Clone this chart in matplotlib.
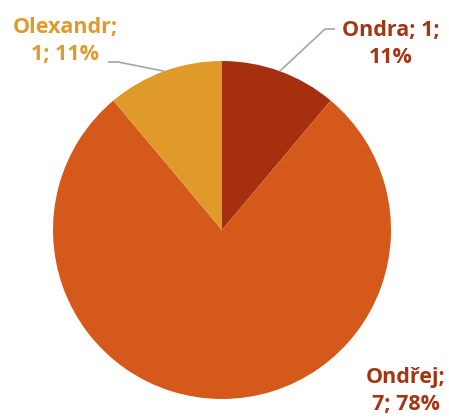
import numpy as np
import matplotlib.pyplot as plt

names = ['Ondra', 'Ondřej', 'Olexandr']
counts = [1, 7, 1]
colors = ['#A52F0F', '#D5591A', '#E09A2A']
text_colors = ['#A33512', '#A33512', '#E09A2A']

W, H = 449, 419
fig = plt.figure(figsize=(W / 100, H / 100), dpi=100)
ax = fig.add_axes([0, 0, 1, 1])

cx, cy, r = 222, H - 230, 169
wedges, _ = ax.pie(counts, colors=colors, startangle=90, counterclock=False,
                   center=(cx, cy), radius=r,
                   wedgeprops=dict(edgecolor='none', linewidth=0))
ax.set_xlim(0, W)
ax.set_ylim(0, H)
ax.set_aspect('equal')
ax.axis('off')

total = sum(counts)
# label centres (pixels from top) and leader elbow points
label_pos = [(391, 44), (406, 391), (65, 41)]
elbows = [(325, 29, 335), None, (118, 62, 108)]

for i, w in enumerate(wedges):
    pct = round(100 * counts[i] / total)
    if names[i] == 'Ondra':
        txt = f'{names[i]}; {counts[i]};\n{pct}%'
    else:
        txt = f'{names[i]};\n{counts[i]}; {pct}%'
    lx, ly = label_pos[i]
    ax.text(lx, H - ly, txt, ha='center', va='center', fontsize=15.5,
            fontweight='bold', family='Open Sans', color=text_colors[i],
            linespacing=1.38)
    if elbows[i] is not None:
        mid = np.deg2rad((w.theta1 + w.theta2) / 2)
        ex, ey = cx + r * np.cos(mid), cy + r * np.sin(mid)
        bx, by, tx = elbows[i]
        ax.plot([ex, bx, tx], [ey, H - by, H - by], color='#A6A6A6', lw=1.2,
                solid_capstyle='butt')

fig.savefig('out.png', dpi=100)
